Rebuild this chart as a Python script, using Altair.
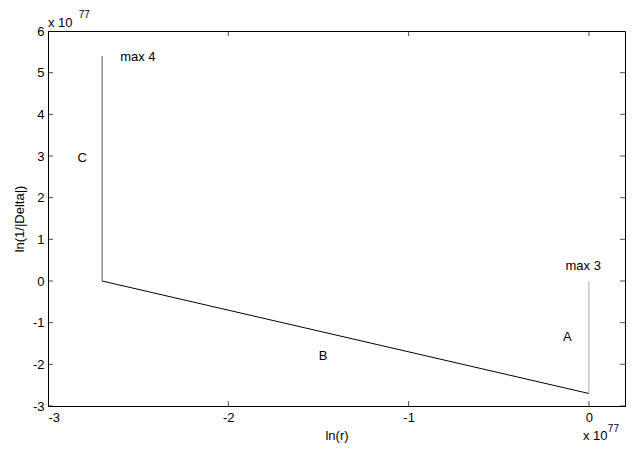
import altair as alt
import pandas as pd

# Segments (values in units of 1e77)
seg_name = ["C", "C", "B", "B", "A", "A"]
seg_x = [-2.7, -2.7, -2.7, 0.0, 0.0, 0.0]
seg_y = [5.4, 0.0, 0.0, -2.7, -2.7, 0.0]
seg_order = [0, 1, 0, 1, 0, 1]

# Annotations
ann_text = ["max 4", "C", "max 3", "A", "B"]
ann_x = [-2.6, -2.81, -0.13, -0.12, -1.475]
ann_y = [5.38, 2.96, 0.35, -1.35, -1.81]
ann_align = ["left", "center", "left", "center", "center"]

# Axis ticks
x_ticks = [-3, -2, -1, 0]
y_ticks = [-3, -2, -1, 0, 1, 2, 3, 4, 5, 6]

# Exponent labels ("x 10" + superscript "77")
exp_base_x = [-3.0, -0.033]
exp_base_y = [6.09, -3.81]
exp_sup_x = [-2.83, 0.105]
exp_sup_y = [6.32, -3.62]

FONT = "Liberation Sans"
W, H = 577, 375
xs = alt.Scale(domain=[-3, 0.2], nice=False, zero=False)
ys = alt.Scale(domain=[-3, 6], nice=False, zero=False)

seg = pd.DataFrame({"name": seg_name, "x": seg_x, "y": seg_y, "o": seg_order})
ann = pd.DataFrame({"t": ann_text, "x": ann_x, "y": ann_y, "a": ann_align})
xt = pd.DataFrame({"v": x_ticks})
yt = pd.DataFrame({"v": y_ticks})
eb = pd.DataFrame({"x": exp_base_x, "y": exp_base_y, "t": ["x 10"] * 2})
es = pd.DataFrame({"x": exp_sup_x, "y": exp_sup_y, "t": ["77"] * 2})

lab = "datum.value < 0 ? '-' + abs(datum.value) : '' + datum.value"

base_x = alt.X("x:Q", scale=xs, title="ln(r)",
               axis=alt.Axis(values=x_ticks, tickSize=0, grid=False, labelPadding=5,
                             titlePadding=5, labelExpr=lab, labelFontSize=13,
                             titleFontSize=13))
base_y = alt.Y("y:Q", scale=ys, title="ln(1/|Delta|)",
               axis=alt.Axis(values=y_ticks, tickSize=0, grid=False, labelPadding=4,
                             titlePadding=6, labelExpr=lab, labelFontSize=13,
                             titleFontSize=13))

lines = alt.Chart(seg).mark_line(strokeWidth=1).encode(
    x=base_x, y=base_y,
    color=alt.Color("name:N", scale=alt.Scale(domain=["C", "B", "A"],
                                              range=["#555555", "#000000", "#aaaaaa"]),
                    legend=None),
    detail="name:N", order="o:Q")

texts = []
for al in ["left", "center"]:
    texts.append(alt.Chart(ann[ann["a"] == al]).mark_text(
        align=al, baseline="middle", font=FONT, fontSize=13, color="black").encode(
        x=alt.X("x:Q", scale=xs), y=alt.Y("y:Q", scale=ys), text="t:N"))

tick_y_left = alt.Chart(yt).mark_tick(size=10, thickness=1, color="black", clip=True,
                                      orient="horizontal").encode(
    y=alt.Y("v:Q", scale=ys), x=alt.value(0))
tick_y_right = alt.Chart(yt).mark_tick(size=10, thickness=1, color="black", clip=True,
                                       orient="horizontal").encode(
    y=alt.Y("v:Q", scale=ys), x=alt.value(W))
tick_x_bot = alt.Chart(xt).mark_tick(size=10, thickness=1, color="black", clip=True,
                                     orient="vertical").encode(
    x=alt.X("v:Q", scale=xs), y=alt.value(H))
tick_x_top = alt.Chart(xt).mark_tick(size=10, thickness=1, color="black", clip=True,
                                     orient="vertical").encode(
    x=alt.X("v:Q", scale=xs), y=alt.value(0))

exp_b = alt.Chart(eb).mark_text(align="left", baseline="alphabetic", font=FONT,
                                fontSize=13, color="black").encode(
    x=alt.X("x:Q", scale=xs), y=alt.Y("y:Q", scale=ys), text="t:N")
exp_s = alt.Chart(es).mark_text(align="left", baseline="alphabetic", font=FONT,
                                fontSize=10, color="black").encode(
    x=alt.X("x:Q", scale=xs), y=alt.Y("y:Q", scale=ys), text="t:N")

chart = alt.layer(lines, *texts, tick_y_left, tick_y_right, tick_x_bot, tick_x_top,
                  exp_b, exp_s).properties(
    width=W, height=H,
    background="white",
    autosize=alt.AutoSizeParams(type="none"),
    padding={"left": 40, "top": 23, "right": 4, "bottom": 37},
).configure_view(stroke="black", strokeWidth=1).configure_axis(
    labelFont=FONT, titleFont=FONT, labelFontSize=13, titleFontSize=13,
    labelColor="black", titleColor="black", titleFontWeight="normal",
    domainColor="black", domainWidth=1,
)

chart.save("out.html", embed_options={"renderer": "svg", "actions": False})
